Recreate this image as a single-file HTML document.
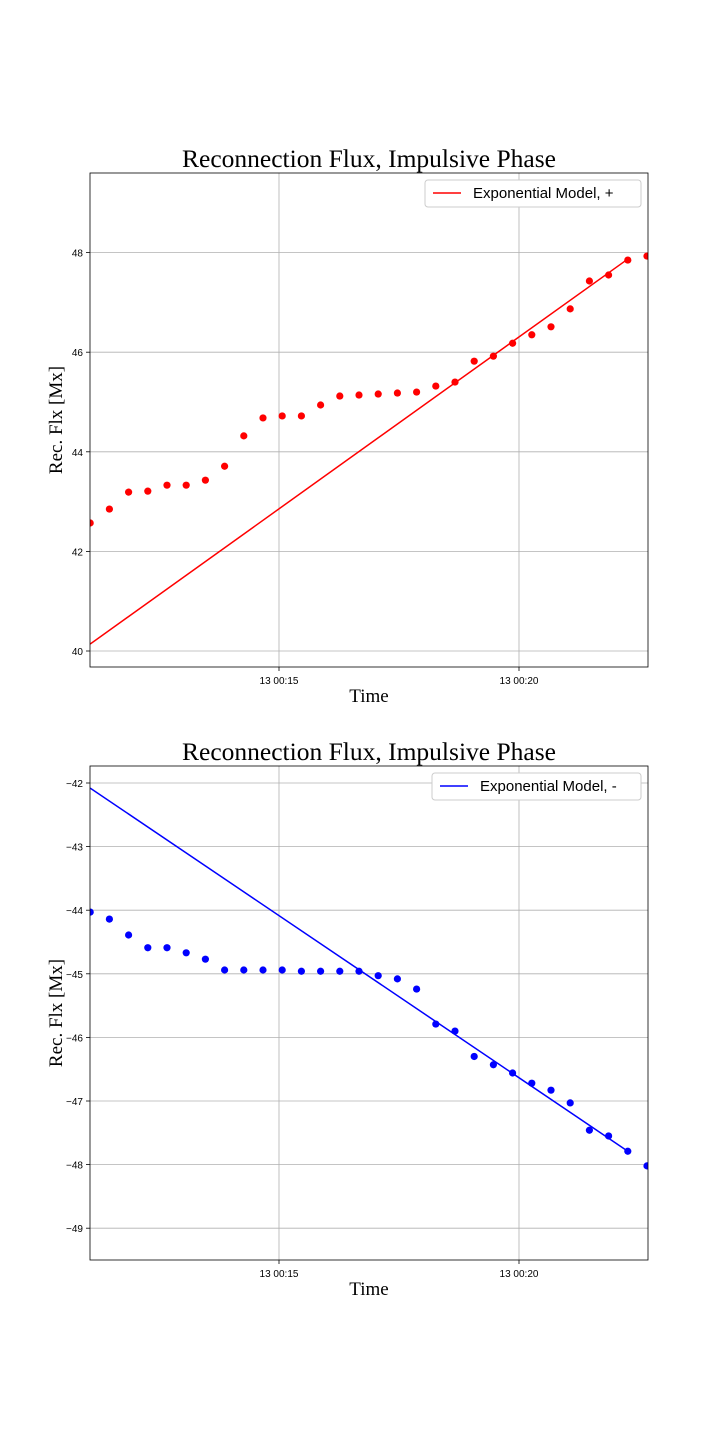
<!DOCTYPE html>
<html><head><meta charset="utf-8"><style>
body{margin:0;background:#fff;}
svg{display:block;}
</style></head><body>
<svg id="chart" width="720" height="1440" xmlns="http://www.w3.org/2000/svg"></svg>
<script>
// shared time axis: seconds relative to 13 00:15
const timesSec = [-236,-212,-188,-164,-140,-116,-92,-68,-44,-20,4,28,52,76,100,124,148,172,196,220,244,268,292,316,340,364,388,412,436,460];
const xTickLabels = ["13 00:15","13 00:20"];
const xTickValues = [0,300];
// top panel
const posFlux = [42.57,42.85,43.19,43.21,43.33,43.33,43.43,43.71,44.32,44.68,44.72,44.72,44.94,45.12,45.14,45.16,45.18,45.20,45.32,45.40,45.82,45.92,46.18,46.35,46.51,46.87,47.43,47.55,47.85,47.93];
const posModelT = [-236,436];
const posModelV = [40.14,47.87];
const posYTicks = [40,42,44,46,48];
// bottom panel
const negFlux = [-44.03,-44.14,-44.39,-44.59,-44.59,-44.67,-44.77,-44.94,-44.94,-44.94,-44.94,-44.96,-44.96,-44.96,-44.96,-45.03,-45.08,-45.24,-45.79,-45.90,-46.30,-46.43,-46.56,-46.72,-46.83,-47.03,-47.46,-47.55,-47.79,-48.02];
const negModelT = [-236,436];
const negModelV = [-42.08,-47.79];
const negYTicks = [-42,-43,-44,-45,-46,-47,-48,-49];

const NS="http://www.w3.org/2000/svg";
const svg=document.getElementById('chart');
function mk(tag,attrs,parent){const e=document.createElementNS(NS,tag);for(const k in attrs)e.setAttribute(k,attrs[k]);(parent||svg).appendChild(e);return e;}

function panel(cfg){
  const g=mk('g',{});
  
  
  const L=90,R=648,T=cfg.top,B=cfg.top+494;
  const xs=t=>279+(t)*0.8;
  const ys=v=>cfg.y0px+(v-cfg.y0)*cfg.ppu*-1;
  xTickValues.forEach((t,i)=>{
    const l=mk('line',{x1:xs(t),x2:xs(t),y1:T,y2:B,stroke:'#b0b0b0','stroke-width':0.8},g);
    
    
    mk('line',{x1:xs(t),x2:xs(t),y1:B,y2:B+4,stroke:'#000','stroke-width':0.8},g);
    const tx=mk('text',{x:xs(t),y:B+17,'text-anchor':'middle','font-family':'Liberation Sans, sans-serif','font-size':10},g);
    tx.textContent=xTickLabels[i];
    
    
  });
  cfg.ticks.forEach(v=>{
    const y=ys(v);
    const l=mk('line',{x1:L,x2:R,y1:y,y2:y,stroke:'#b0b0b0','stroke-width':0.8},g);
    
    
    mk('line',{x1:L-4,x2:L,y1:y,y2:y,stroke:'#000','stroke-width':0.8},g);
    const tx=mk('text',{x:L-7,y:y+4,'text-anchor':'end','font-family':'Liberation Sans, sans-serif','font-size':10},g);
    tx.textContent=v<0?'\u2212'+Math.abs(v):String(v);
    
    
  });
  const cp=mk('clipPath',{id:cfg.name+'-clip'},g);
  mk('rect',{x:L,y:T,width:R-L,height:B-T},cp);
  const pg=mk('g',{'clip-path':'url(#'+cfg.name+'-clip)'},g);
  const ml=mk('line',{x1:xs(cfg.mt[0]),y1:ys(cfg.mv[0]),x2:xs(cfg.mt[1]),y2:ys(cfg.mv[1]),stroke:cfg.color,'stroke-width':1.5},pg);
  
  
  cfg.data.forEach((v,i)=>{
    const c=mk('circle',{cx:xs(timesSec[i]),cy:ys(v),r:3.6,fill:cfg.color},pg);
    
    
  });
  mk('rect',{x:L,y:T,width:R-L,height:B-T,fill:'none',stroke:'#000','stroke-width':0.8},g);
  const ti=mk('text',{x:369,y:T-6,'text-anchor':'middle','font-family':'Liberation Serif, serif','font-size':25.5},g);
  ti.textContent='Reconnection Flux, Impulsive Phase';
  
  
  const xl=mk('text',{x:369,y:B+35,'text-anchor':'middle','font-family':'Liberation Serif, serif','font-size':19},g);
  xl.textContent='Time';
  
  
  const yl=mk('text',{x:0,y:0,'text-anchor':'middle','font-family':'Liberation Serif, serif','font-size':19,transform:'translate(62,'+((T+B)/2)+') rotate(-90)'},g);
  yl.textContent='Rec. Flx [Mx]';
  
  
  const lg=mk('g',{},g);
  
  
  mk('rect',{x:cfg.lx,y:T+7,width:641-cfg.lx,height:27,rx:3,fill:'#fff',stroke:'#ccc','stroke-width':1},lg);
  mk('line',{x1:cfg.lx+8,x2:cfg.lx+36,y1:T+20,y2:T+20,stroke:cfg.color,'stroke-width':1.5},lg);
  const lt=mk('text',{x:cfg.lx+48,y:T+25,'font-family':'Liberation Sans, sans-serif','font-size':15},lg);
  lt.textContent=cfg.label;
  
  
}
panel({name:'positive-panel',top:173,y0:40,y0px:651,ppu:49.8,ticks:posYTicks,data:posFlux,mt:posModelT,mv:posModelV,color:'#ff0000',lx:425,label:'Exponential Model, +'});
panel({name:'negative-panel',top:766,y0:-42,y0px:783,ppu:63.6,ticks:negYTicks,data:negFlux,mt:negModelT,mv:negModelV,color:'#0000ff',lx:432,label:'Exponential Model, -'});
</script>
</body></html>
